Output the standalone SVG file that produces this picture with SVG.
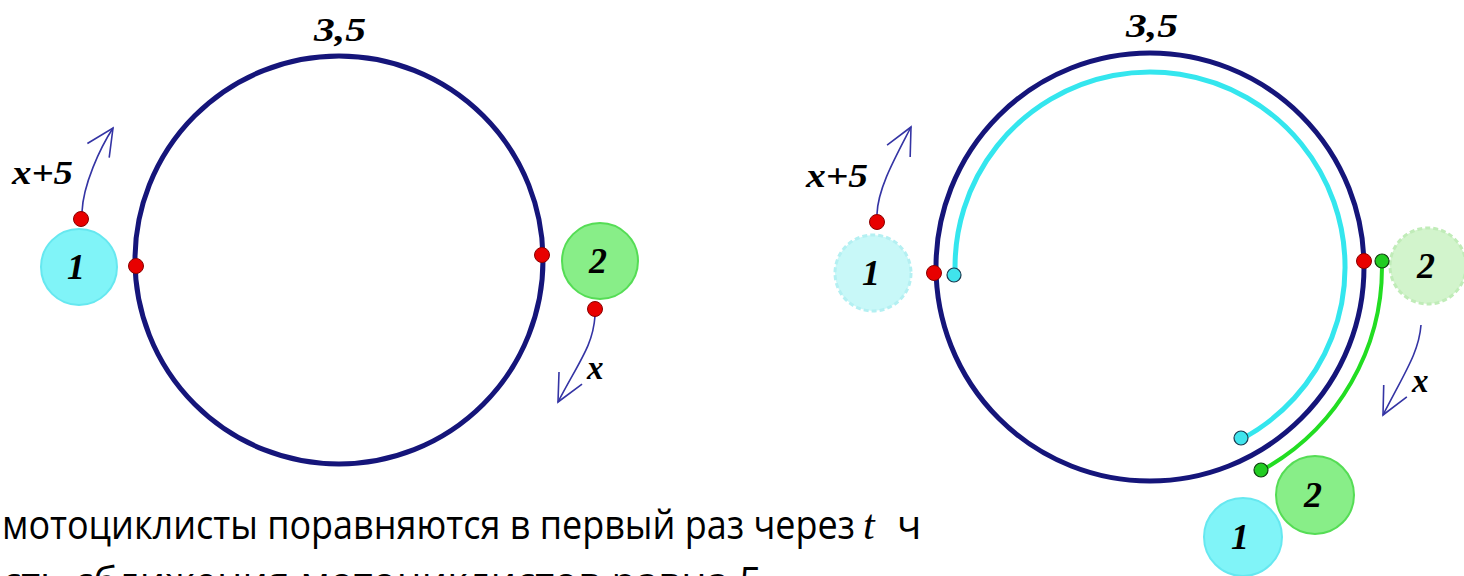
<svg xmlns="http://www.w3.org/2000/svg" width="1464" height="576" viewBox="0 0 1464 576">
<style>
.track{fill:none;stroke:#15157a;stroke-width:5}
.red{fill:#e80000;stroke:#8a0000;stroke-width:1}
.n1{fill:#80f4f8;stroke:#66e8f0;stroke-width:2}
.n2{fill:#88ee88;stroke:#55dd55;stroke-width:2}
.g1{fill:#c8f8f8;stroke:#b4f0f2;stroke-width:3;stroke-dasharray:5 3}
.g2{fill:#d2f4cc;stroke:#c0ecb8;stroke-width:3;stroke-dasharray:5 3}
.lbl{font-family:"Liberation Serif","Times New Roman",serif;font-weight:bold;font-style:italic;fill:#000}
.num{font-size:36px;text-anchor:middle}
.small{font-size:33px}
.arrow{fill:none;stroke:#3434a4;stroke-width:1.6}
.body{font-family:"Open Sans","Noto Sans",sans-serif;font-size:40px;fill:#000}
.cyanarc{fill:none;stroke:#34e6ee;stroke-width:5;stroke-linecap:round}
.greenarc{fill:none;stroke:#22dd22;stroke-width:4;stroke-linecap:round}
.cdot{fill:#40e4ec;stroke:#1a3a50;stroke-width:1.2}
.gdot{fill:#22cc22;stroke:#104010;stroke-width:1.2}
</style>
<defs>
<marker id="ah" markerUnits="userSpaceOnUse" markerWidth="40" markerHeight="40" viewBox="-30 -20 40 40" refX="0" refY="0" orient="auto">
<path d="M-27,-13 L0,0 L-27,13" fill="none" stroke="#3434a4" stroke-width="1.6"/>
</marker>
</defs>

<!-- LEFT PICTURE -->
<g id="left-track">
<circle class="track" cx="339" cy="260" r="204"/>
<text class="lbl small" x="314" y="41" textLength="52" lengthAdjust="spacingAndGlyphs">3,5</text>
</g>
<g id="left-node1">
<circle class="n1" cx="79" cy="267" r="38"/>
<text class="lbl num" x="76" y="279">1</text>
</g>
<g id="left-node2">
<circle class="n2" cx="600" cy="261" r="38"/>
<text class="lbl num" x="598" y="273">2</text>
</g>
<g id="left-labels">
<text class="lbl small" x="12" y="184" textLength="61" lengthAdjust="spacingAndGlyphs">x+5</text>
<text class="lbl small" x="587" y="379">x</text>
</g>
<g id="left-connectors">
<path class="arrow" d="M82,212 C83,185 100,148 113,128" marker-end="url(#ah)"/>
<path class="arrow" d="M595,316 C593,345 580,360 558,402" marker-end="url(#ah)"/>
</g>
<g id="left-points">
<circle class="red" cx="81" cy="219" r="7.5"/>
<circle class="red" cx="136" cy="266" r="7.5"/>
<circle class="red" cx="542" cy="255" r="7.5"/>
<circle class="red" cx="595" cy="309" r="7.5"/>
</g>

<!-- RIGHT PICTURE -->
<g id="right-track">
<circle class="track" cx="1150" cy="267" r="214"/>
<text class="lbl small" x="1126" y="37" textLength="52" lengthAdjust="spacingAndGlyphs">3,5</text>
</g>
<g id="right-paths">
<path class="cyanarc" d="M955.2,274.8 A195,195 0 1 1 1241.8,439"/>
<path class="greenarc" d="M1381.9,260.9 A232,232 0 0 1 1261.8,470.3"/>
</g>
<g id="right-ghost1">
<circle class="g1" cx="873" cy="273" r="38"/>
<text class="lbl num" x="871" y="285">1</text>
</g>
<g id="right-ghost2">
<circle class="g2" cx="1428" cy="266" r="38"/>
<text class="lbl num" x="1426" y="278">2</text>
</g>
<g id="right-node2">
<circle class="n2" cx="1315" cy="495" r="39"/>
<text class="lbl num" x="1313" y="507">2</text>
</g>
<g id="right-node1">
<circle class="n1" cx="1243" cy="537" r="39"/>
<text class="lbl num" x="1240" y="549">1</text>
</g>
<g id="right-labels">
<text class="lbl small" x="806" y="187" textLength="62" lengthAdjust="spacingAndGlyphs">x+5</text>
<text class="lbl small" x="1412" y="392">x</text>
</g>
<g id="right-connectors">
<path class="arrow" d="M877,214 C878,188 895,158 911,127" marker-end="url(#ah)"/>
<path class="arrow" d="M1421,325 C1419,352 1405,372 1383,415" marker-end="url(#ah)"/>
</g>
<g id="right-points">
<circle class="red" cx="877" cy="222" r="7.5"/>
<circle class="red" cx="934" cy="273" r="7.5"/>
<circle class="cdot" cx="954" cy="275" r="7"/>
<circle class="red" cx="1364" cy="261" r="7.5"/>
<circle class="gdot" cx="1382" cy="261" r="7"/>
<circle class="cdot" cx="1241" cy="438" r="7"/>
<circle class="gdot" cx="1261" cy="470" r="7"/>
</g>

<!-- BOTTOM TEXT -->
<g id="caption">
<text class="body" y="539"><tspan x="2" textLength="853" lengthAdjust="spacingAndGlyphs">мотоциклисты поравняются в первый раз через</tspan><tspan x="863" font-family="Liberation Serif,serif" font-style="italic" font-size="42">t</tspan><tspan x="897">ч</tspan></text>
<text class="body" x="2" y="596" textLength="760" lengthAdjust="spacingAndGlyphs">сть сближения мотоциклистов равна 5</text>
</g>
</svg>
